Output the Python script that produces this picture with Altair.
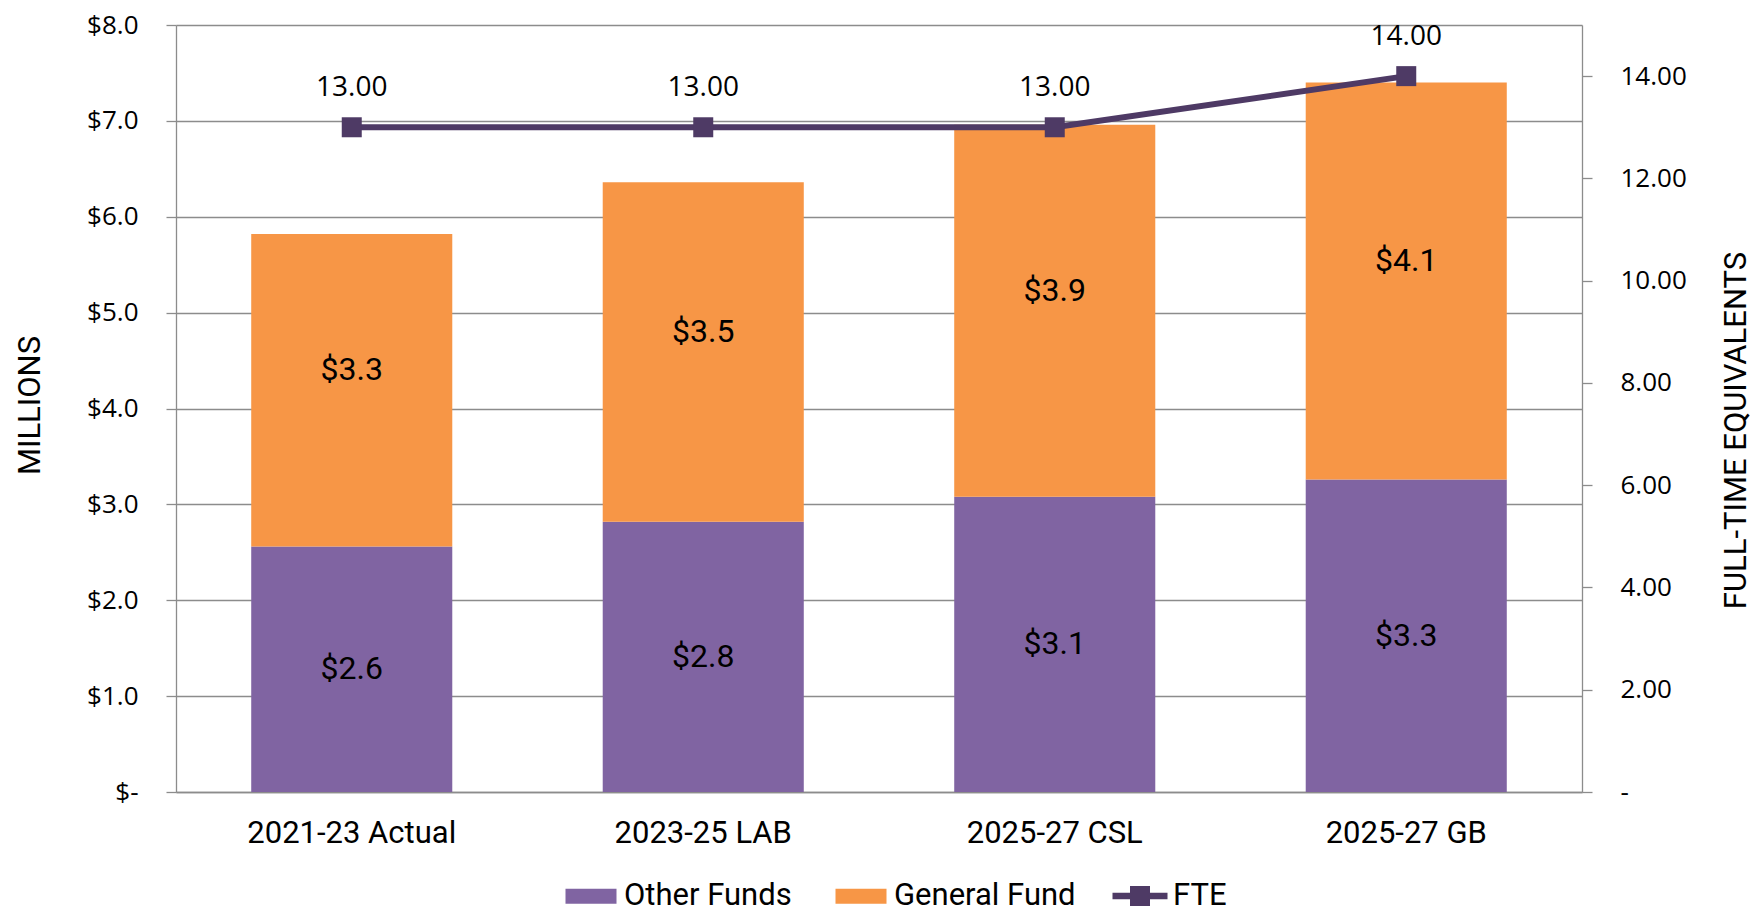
import altair as alt
import pandas as pd

categories = ["2021-23 Actual", "2023-25 LAB", "2025-27 CSL", "2025-27 GB"]
series_names = ["Other Funds", "General Fund"]
other_funds = [2.56, 2.82, 3.08, 3.26]
general_fund = [3.26, 3.54, 3.88, 4.14]
fte = [13.00, 13.00, 13.00, 14.00]
fte_name = ["FTE"]
left_ticks = [0, 1, 2, 3, 4, 5, 6, 7, 8]
right_ticks = [0, 2, 4, 6, 8, 10, 12, 14]

PURPLE = "#8064A2"
ORANGE = "#F79646"
LINE = "#4E3A65"
GRAY = "#8C8C8C"

rows = []
for i, c in enumerate(categories):
    rows.append({"category": c, "series": series_names[0], "order": 0, "value": other_funds[i]})
    rows.append({"category": c, "series": series_names[1], "order": 1, "value": general_fund[i]})
bar_df = pd.DataFrame(rows)
fte_df = pd.DataFrame({"category": categories, "fte": fte, "series": fte_name * len(categories)})

x_enc = alt.X(
    "category:N",
    sort=categories,
    scale=alt.Scale(paddingInner=0.428, paddingOuter=0.214),
    axis=alt.Axis(
        title=None, labelAngle=0, labelFont="Roboto", labelFontSize=31, labelColor="#000000",
        ticks=False, tickSize=0, labelPadding=26, domainColor=GRAY, domainWidth=1.3,
        labelBaseline="top", labelLimit=0,
    ),
)

left_scale = alt.Scale(domain=[0, 8], nice=False, zero=True)
right_scale = alt.Scale(domain=[0, 15], nice=False, zero=True)

left_axis = alt.Axis(
    title="MILLIONS", values=left_ticks, orient="left",
    labelExpr="datum.value == 0 ? '$-\u00a0\u00a0' : '$' + format(datum.value, '.1f')",
    labelFont="Open Sans", labelFontSize=26, labelColor="#000000", labelPadding=28,
    tickSize=10, tickColor=GRAY, tickWidth=1.3, domainColor=GRAY, domainWidth=1.3,
    grid=True, gridColor=GRAY, gridWidth=1.3,
    titleFont="Roboto", titleFontSize=31, titleFontWeight="normal", titleColor="#000000",
    titleAngle=270, titleX=-146, titleY=380, titleAlign="center", titleBaseline="middle",
)

right_axis = alt.Axis(
    title="FULL-TIME EQUIVALENTS", orient="right", values=right_ticks,
    labelExpr="datum.value == 0 ? '-' : format(datum.value, '.2f')",
    labelFont="Open Sans", labelFontSize=26, labelColor="#000000", labelPadding=28,
    tickSize=10, tickColor=GRAY, tickWidth=1.3, domainColor=GRAY, domainWidth=1.3,
    grid=False,
    titleFont="Roboto", titleFontSize=31, titleFontWeight="normal", titleColor="#000000",
    titleAngle=270, titleX=154, titleY=405, titleAlign="center", titleBaseline="middle",
)

stacked = alt.Chart(bar_df).transform_stack(
    stack="value", groupby=["category"], as_=["y0", "y1"], sort=[alt.SortField("order")]
).transform_calculate(mid="(datum.y0 + datum.y1) / 2")

bars = stacked.mark_bar().encode(
    x=x_enc,
    y=alt.Y("y0:Q", scale=left_scale, axis=left_axis),
    y2="y1:Q",
    color=alt.Color(
        "series:N",
        scale=alt.Scale(domain=series_names, range=[PURPLE, ORANGE]),
        legend=alt.Legend(
            title=None, orient="none", direction="horizontal", legendX=399.5, legendY=855.5,
            symbolType="M-1.7,-0.5H1.7V0.5H-1.7Z", symbolSize=900, symbolStrokeWidth=0,
            labelFont="Roboto", labelFontSize=31, labelColor="#000000", labelOffset=17.5,
            labelLimit=0, columnPadding=43, padding=0, symbolOpacity=1,
        ),
    ),
)

labels_other = stacked.transform_filter(alt.datum.order == 0).mark_text(
    font="Roboto", fontSize=32, color="#000000", baseline="middle", align="center"
).encode(
    x=x_enc,
    y=alt.Y("mid:Q", scale=left_scale, axis=left_axis),
    text=alt.Text("value:Q", format="$.1f"),
)

labels_general = stacked.transform_filter(alt.datum.order == 1).mark_text(
    font="Roboto", fontSize=32, color="#000000", baseline="middle", align="center", dy=-20
).encode(
    x=x_enc,
    y=alt.Y("mid:Q", scale=left_scale, axis=left_axis),
    text=alt.Text("value:Q", format="$.1f"),
)

left_layer = alt.layer(bars, labels_other, labels_general)

fte_base = alt.Chart(fte_df)

line = fte_base.mark_line(color=LINE, strokeWidth=6).encode(
    x=x_enc,
    y=alt.Y("fte:Q", scale=right_scale, axis=right_axis),
)

points = fte_base.mark_square(size=400, opacity=1).encode(
    x=x_enc,
    y=alt.Y("fte:Q", scale=right_scale, axis=right_axis),
    color=alt.Color(
        "series:N",
        scale=alt.Scale(domain=fte_name, range=[LINE]),
        legend=alt.Legend(
            title=None, orient="none", direction="horizontal", legendX=948.5, legendY=855.5,
            symbolType="M-2.75,-0.33H-1V-1H1V-0.33H2.75V0.33H1V1H-1V0.33H-2.75Z",
            symbolSize=400, symbolStrokeWidth=0, symbolOpacity=1,
            labelFont="Roboto", labelFontSize=31, labelColor="#000000", labelOffset=17.5,
            labelLimit=0, padding=0,
        ),
    ),
)

fte_labels = fte_base.mark_text(
    font="Open Sans", fontSize=28, color="#000000", baseline="middle", align="center", dy=-39
).encode(
    x=x_enc,
    y=alt.Y("fte:Q", scale=right_scale, axis=right_axis),
    text=alt.Text("fte:Q", format=".2f"),
)

right_layer = alt.layer(line, points, fte_labels)

chart = alt.layer(left_layer, right_layer).resolve_scale(
    y="independent", color="independent"
).properties(
    width=1406,
    height=767,
    padding={"left": 168, "top": 17, "right": 170, "bottom": 125},
    autosize=alt.AutoSizeParams(type="none"),
    background="#FFFFFF",
).configure_view(strokeWidth=0)

chart.save("out.html", embed_options={"renderer": "svg", "actions": False})
